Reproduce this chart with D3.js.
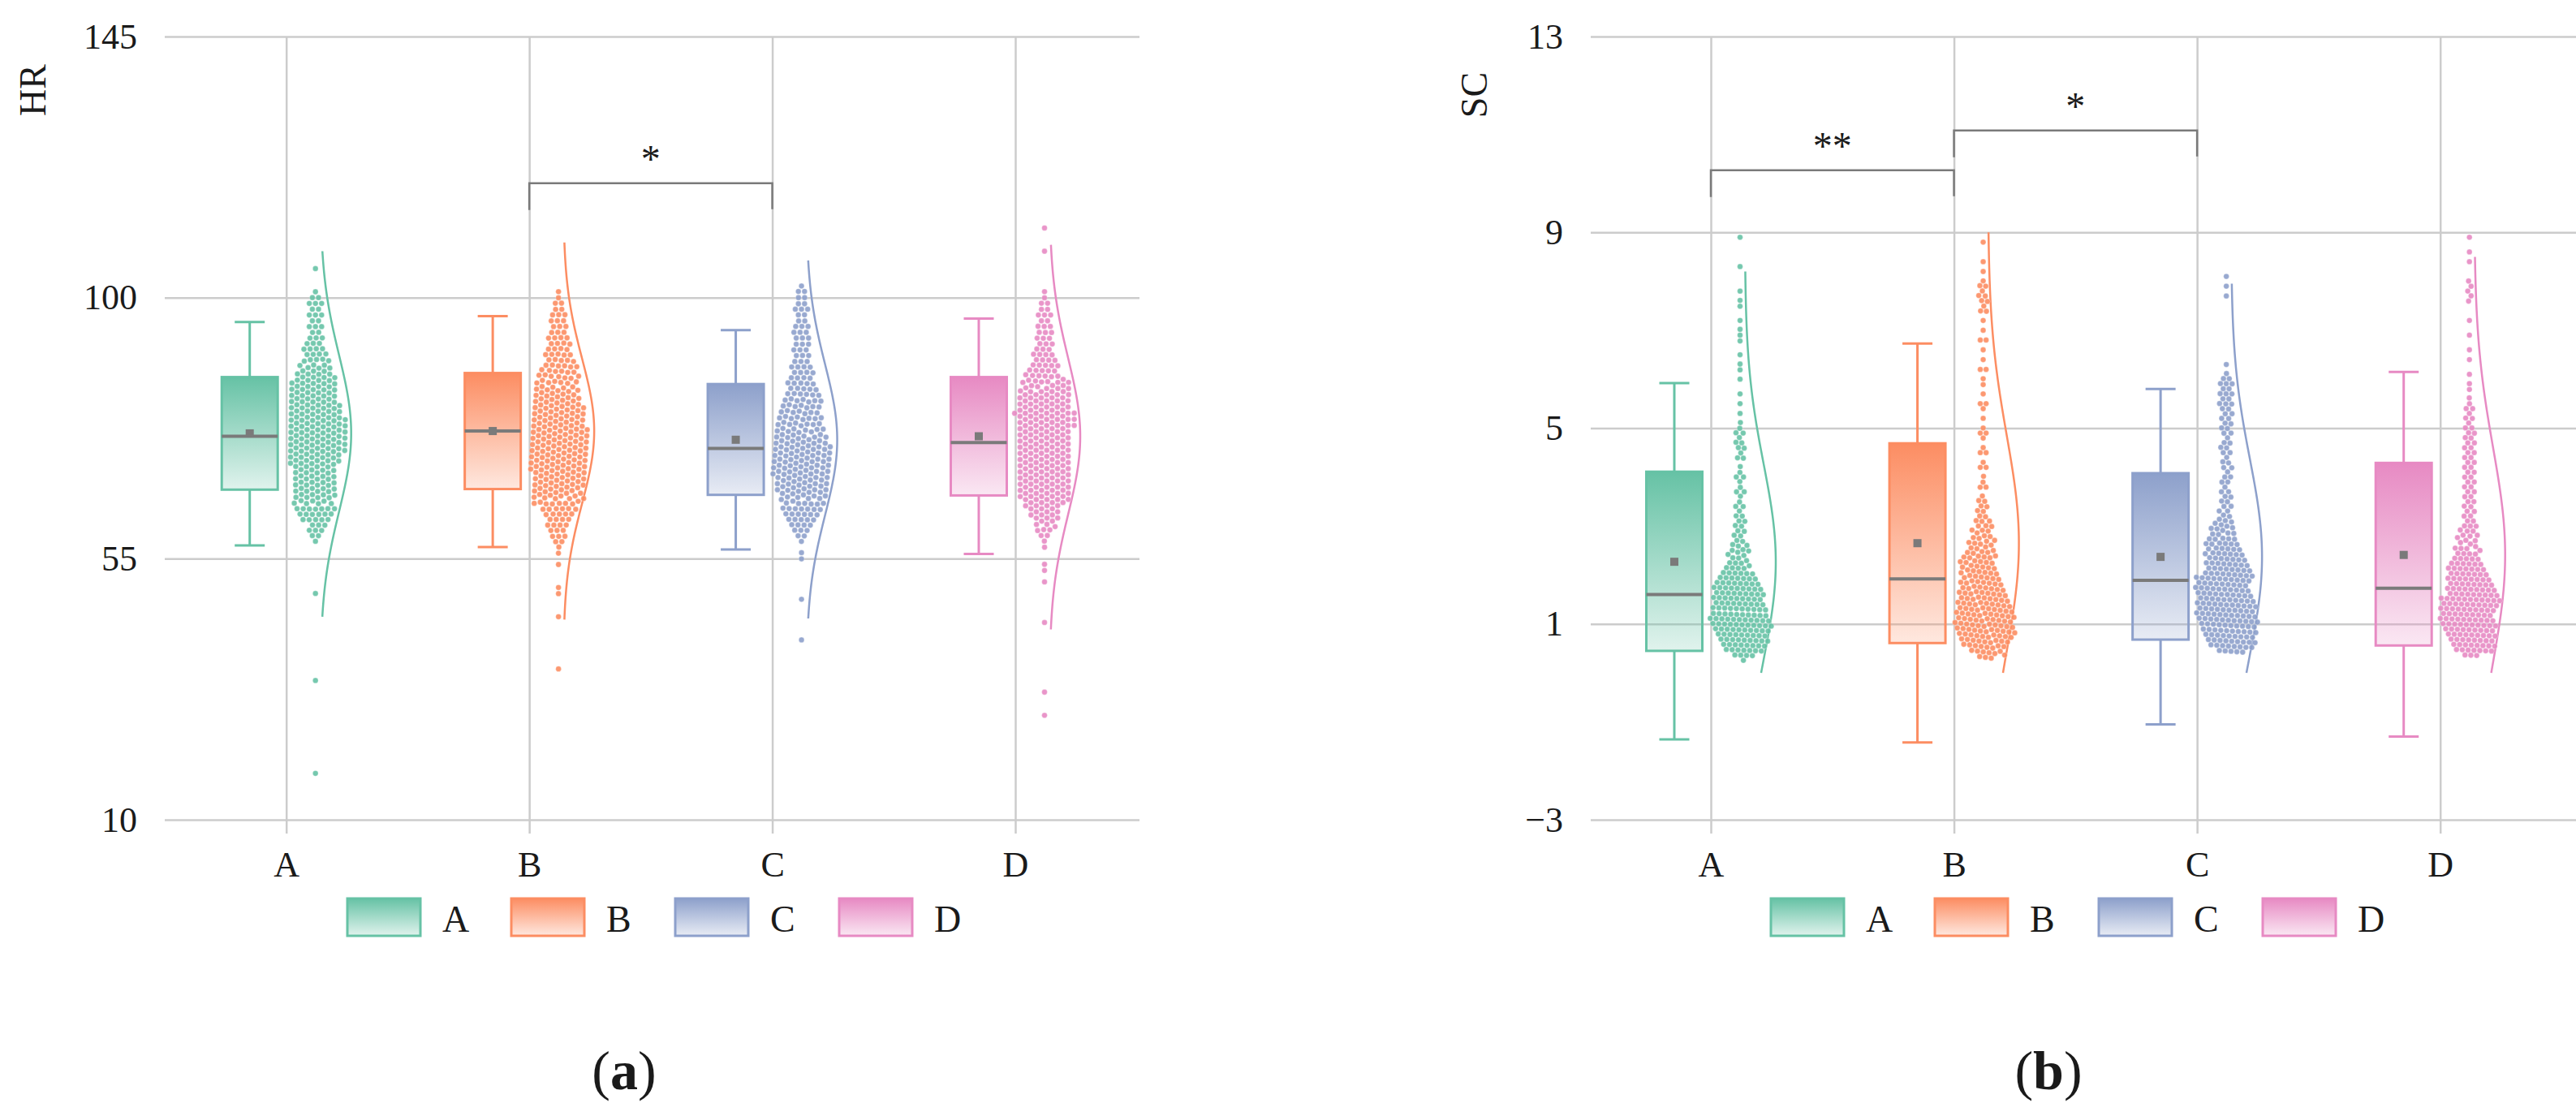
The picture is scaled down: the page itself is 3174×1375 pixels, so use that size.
<!DOCTYPE html>
<html>
<head>
<meta charset="utf-8">
<title>HR and SC by group</title>
<script src="https://cdn.jsdelivr.net/npm/d3@7"></script>
<style>
	body { margin: 0; background: #fff; }
	text { font-family: "Liberation Serif", "Times New Roman", serif; fill: #1a1a1a; }
</style>
</head>
<body>
<svg id="chart" width="3174" height="1375"></svg>

<script type="text/javascript">
var groups = ['A', 'B', 'C', 'D'];
var colors = ['#66c2a5', '#fc8d62', '#8da0cb', '#e78ac3'];

// ---- panel (a): HR ----
var hrTicks = [10, 55, 100, 145];
var hrWhiskerLow = [57.3, 57.0, 56.6, 55.8];
var hrQ1 = [66.9, 67.0, 66.0, 65.9];
var hrMedian = [76.1, 77.0, 74.0, 75.0];
var hrQ3 = [86.3, 87.0, 85.1, 86.3];
var hrWhiskerHigh = [95.8, 96.8, 94.4, 96.4];
var hrMean = [76.6, 77.0, 75.5, 76.1];
var hrSd = [13.5, 12.5, 13, 13.5];
var hrCurveLow = [45, 44.5, 44.7, 42.8];
var hrCurveHigh = [108, 109.5, 106.4, 109.1];

// [value, count]
var hrFreqA = [[18,1],[34,1],[49,1],[58,1],[59,2],[60,3],[61,3],[62,5],[63,6],[64,7],[65,7],[66,8],[67,8],[68,8],[69,8],[70,8],[71,8],[72,9],[73,9],[74,10],[75,10],[76,11],[77,11],[78,11],[79,11],[80,10],[81,10],[82,9],[83,8],[84,8],[85,8],[86,8],[87,6],[88,6],[89,5],[90,4],[91,4],[92,3],[93,3],[94,2],[95,3],[96,2],[97,3],[98,2],[99,3],[100,2],[101,1],[105,1]];
var hrFreqB = [[36,1],[45,1],[49,1],[50,1],[54,1],[56,1],[57,1],[58,2],[59,3],[60,3],[61,4],[62,4],[63,5],[64,6],[65,8],[66,9],[67,9],[68,10],[69,10],[70,10],[71,10],[72,11],[73,11],[74,11],[75,11],[76,11],[77,11],[78,10],[79,10],[80,10],[81,9],[82,9],[83,8],[84,8],[85,7],[86,7],[87,6],[88,6],[89,5],[90,5],[91,4],[92,4],[93,4],[94,3],[95,3],[96,3],[97,3],[98,2],[99,2],[100,1],[101,1]];
var hrFreqC = [[41,1],[48,1],[55,1],[56,1],[58,1],[59,2],[60,3],[61,4],[62,5],[63,6],[64,7],[65,8],[66,8],[67,9],[68,10],[69,11],[70,11],[71,11],[72,11],[73,11],[74,11],[75,10],[76,9],[77,8],[78,8],[79,8],[80,7],[81,7],[82,7],[83,6],[84,5],[85,5],[86,4],[87,4],[88,4],[89,3],[90,3],[91,3],[92,3],[93,3],[94,3],[95,3],[96,2],[97,2],[98,3],[99,2],[100,2],[101,2],[102,1]];
var hrFreqD = [[28,1],[32,1],[44,1],[51,1],[53,1],[54,1],[57,1],[58,1],[59,2],[60,3],[61,3],[62,4],[63,4],[64,6],[65,8],[66,10],[67,10],[68,10],[69,10],[70,10],[71,10],[72,10],[73,10],[74,10],[75,10],[76,10],[77,10],[78,11],[79,11],[80,11],[81,10],[82,10],[83,10],[84,9],[85,8],[86,6],[87,5],[88,5],[89,4],[90,4],[91,3],[92,3],[93,3],[94,3],[95,3],[96,2],[97,3],[98,2],[99,2],[100,1],[101,1],[108,1],[112,1]];

var hrBrackets = [['B', 'C', '*', 119.7]];

// ---- panel (b): SC ----
var scTicks = [-3, 1, 5, 9, 13];
var scWhiskerLow = [-1.36, -1.42, -1.05, -1.30];
var scQ1 = [0.45, 0.61, 0.68, 0.56];
var scMedian = [1.60, 1.92, 1.89, 1.73];
var scQ3 = [4.11, 4.69, 4.08, 4.29];
var scWhiskerHigh = [5.92, 6.73, 5.80, 6.15];
var scMean = [2.27, 2.65, 2.37, 2.41];
var scSd = [2.0, 2.2, 2.0, 2.2];
var scCurveLow = [0, 0, 0, 0];
var scCurveHigh = [8.2, 9.0, 7.95, 8.5];

var scFreqA = [[0.4,4],[0.5,8],[0.6,8],[0.7,9],[0.8,9],[0.9,10],[1.0,11],[1.1,11],[1.2,10],[1.3,10],[1.4,9],[1.5,9],[1.6,9],[1.7,9],[1.8,8],[1.9,7],[2.0,6],[2.1,4],[2.2,4],[2.3,3],[2.4,3],[2.5,3],[2.6,3],[2.7,2],[2.8,2],[2.9,2],[3.0,2],[3.1,2],[3.2,2],[3.3,1],[3.4,2],[3.5,1],[3.6,1],[3.7,2],[3.8,1],[3.9,1],[4.0,2],[4.1,1],[4.2,1],[4.4,2],[4.5,1],[4.6,2],[4.7,2],[4.8,1],[4.9,2],[5.0,1],[5.1,1],[5.3,1],[5.5,1],[5.7,1],[6.0,1],[6.2,1],[6.3,1],[6.5,1],[6.8,1],[6.9,1],[7.0,1],[7.2,1],[7.5,1],[7.6,1],[7.8,1],[8.3,1],[8.9,1]];
var scFreqB = [[0.4,3],[0.5,6],[0.6,8],[0.7,9],[0.8,10],[0.9,11],[1.0,11],[1.1,11],[1.2,11],[1.3,10],[1.4,10],[1.5,9],[1.6,9],[1.7,8],[1.8,8],[1.9,7],[2.0,7],[2.1,6],[2.2,6],[2.3,5],[2.4,5],[2.5,4],[2.6,4],[2.7,4],[2.8,3],[2.9,3],[3.0,3],[3.1,3],[3.2,2],[3.3,2],[3.4,2],[3.5,2],[3.6,1],[3.8,2],[3.9,1],[4.0,1],[4.2,2],[4.3,1],[4.5,2],[4.6,1],[4.8,1],[4.9,2],[5.0,1],[5.2,1],[5.4,1],[5.5,2],[5.7,1],[5.9,1],[6.0,1],[6.2,2],[6.4,1],[6.6,1],[6.8,2],[7.0,1],[7.2,1],[7.4,2],[7.5,1],[7.6,2],[7.7,2],[7.8,1],[7.9,2],[8.0,1],[8.2,1],[8.4,1],[8.8,1]];
var scFreqC = [[0.5,5],[0.6,8],[0.7,9],[0.8,9],[0.9,10],[1.0,10],[1.1,11],[1.2,11],[1.3,11],[1.4,11],[1.5,10],[1.6,10],[1.7,10],[1.8,9],[1.9,9],[2.0,9],[2.1,8],[2.2,8],[2.3,7],[2.4,7],[2.5,6],[2.6,6],[2.7,5],[2.8,4],[2.9,4],[3.0,3],[3.1,3],[3.2,2],[3.3,2],[3.4,2],[3.5,2],[3.6,2],[3.7,2],[3.8,1],[3.9,2],[4.0,2],[4.1,1],[4.2,2],[4.3,2],[4.4,1],[4.5,2],[4.6,2],[4.7,2],[4.8,1],[4.9,2],[5.0,2],[5.1,2],[5.2,2],[5.3,2],[5.4,2],[5.5,3],[5.6,2],[5.7,3],[5.8,2],[5.9,3],[6.0,2],[6.1,1],[6.3,1],[7.7,1],[7.9,1],[8.1,1]];
var scFreqD = [[0.4,3],[0.5,7],[0.6,8],[0.7,8],[0.8,9],[0.9,9],[1.0,10],[1.1,10],[1.2,10],[1.3,10],[1.4,10],[1.5,10],[1.6,9],[1.7,9],[1.8,8],[1.9,8],[2.0,7],[2.1,7],[2.2,6],[2.3,5],[2.4,4],[2.5,4],[2.6,3],[2.7,3],[2.8,3],[2.9,3],[3.0,3],[3.1,2],[3.2,2],[3.3,2],[3.4,2],[3.5,2],[3.6,2],[3.7,2],[3.8,2],[3.9,2],[4.0,2],[4.1,2],[4.2,2],[4.3,2],[4.4,2],[4.5,2],[4.6,2],[4.7,2],[4.8,2],[4.9,2],[5.0,2],[5.1,1],[5.2,2],[5.3,1],[5.4,2],[5.5,1],[5.6,1],[5.8,1],[5.9,1],[6.1,1],[6.4,1],[6.6,1],[6.9,1],[7.2,1],[7.6,1],[7.7,1],[7.8,1],[7.9,1],[8.0,1],[8.4,1],[8.6,1],[8.9,1]];

var scBrackets = [['A', 'B', '**', 10.27], ['B', 'C', '*', 11.08]];

var svg = d3.select('#chart');
var grey = '#7a7a7a';

// vertical gradients for the boxes and legend keys
var defs = svg.append('defs');
groups.forEach(function(g, i) {
	var grad = defs.append('linearGradient')
		.attr('id', 'grad-' + g)
		.attr('x1', 0).attr('y1', 0).attr('x2', 0).attr('y2', 1);
	grad.append('stop').attr('offset', '0%').attr('stop-color', colors[i]).attr('stop-opacity', 1);
	grad.append('stop').attr('offset', '100%').attr('stop-color', colors[i]).attr('stop-opacity', 0.2);
});

// beeswarm-ish layout: rows pulled to their value, collisions spread them out
function swarm(freq, cx, y, radius) {
	var nodes = [];
	freq.forEach(function(d) {
		for (var k = 0; k < d[1]; k++) {
			nodes.push({value: d[0], ty: y(d[0]), x: cx + (k - (d[1] - 1) / 2) * 2 * radius, y: y(d[0]) + (k % 2 ? 1.5 : -1.5)});
		}
	});
	var sim = d3.forceSimulation(nodes)
		.force('x', d3.forceX(cx).strength(0.07))
		.force('y', d3.forceY(function(d) { return d.ty; }).strength(0.5))
		.force('collide', d3.forceCollide(radius).iterations(3))
		.stop();
	for (var i = 0; i < 300; i++) sim.tick();
	return nodes;
}

function drawPanel(p) {
	var g = svg.append('g');
	var y = d3.scaleLinear().domain(p.domain).range([1010, 45]);
	var x = d3.scalePoint().domain(groups).range([p.catFirst, p.catLast]);

	// horizontal grid + tick labels
	var yAxis = g.append('g')
		.attr('transform', 'translate(' + p.left + ',0)')
		.call(d3.axisLeft(y).tickValues(p.ticks).tickSize(-(p.right - p.left)).tickPadding(34).tickFormat(d3.format('d')));
	yAxis.select('.domain').remove();
	yAxis.selectAll('line').attr('stroke', '#cccccc').attr('stroke-width', 2.5);
	yAxis.selectAll('text').style('font-size', '44px').attr('fill', '#1a1a1a');

	// vertical grid lines, short ticks and category labels
	var gridX = g.append('g')
		.attr('transform', 'translate(0,1010)')
		.call(d3.axisBottom(x).tickSize(-965).tickFormat(''));
	gridX.select('.domain').remove();
	gridX.selectAll('line').attr('stroke', '#cccccc').attr('stroke-width', 2.5);

	var xAxis = g.append('g')
		.attr('transform', 'translate(0,1010)')
		.call(d3.axisBottom(x).tickSize(17).tickPadding(22));
	xAxis.select('.domain').remove();
	xAxis.selectAll('line').attr('stroke', '#cccccc').attr('stroke-width', 2.5);
	xAxis.selectAll('text').style('font-size', '44px').attr('fill', '#1a1a1a');

	// axis title
	g.append('text')
		.attr('transform', 'translate(' + p.titleX + ',' + p.titleY + ') rotate(-90)')
		.attr('text-anchor', 'middle')
		.attr('dy', '0.35em')
		.style('font-size', '46px')
		.text(p.title);

	// significance brackets
	p.brackets.forEach(function(b) {
		var x1 = x(b[0]), x2 = x(b[1]), yt = y(b[3]);
		g.append('path')
			.attr('d', 'M' + x1 + ',' + (yt + 33) + 'V' + yt + 'H' + x2 + 'V' + (yt + 32))
			.attr('fill', 'none')
			.attr('stroke', grey)
			.attr('stroke-width', 2.5);
		g.append('text')
			.attr('x', (x1 + x2) / 2)
			.attr('y', yt - 14)
			.attr('text-anchor', 'middle')
			.style('font-size', '48px')
			.text(b[2]);
	});

	groups.forEach(function(name, i) {
		var c = colors[i];
		var bx = x(name) - 45, bw = 69;

		// whiskers
		g.append('line').attr('x1', bx).attr('x2', bx)
			.attr('y1', y(p.q3[i])).attr('y2', y(p.whHigh[i]))
			.attr('stroke', c).attr('stroke-width', 3);
		g.append('line').attr('x1', bx).attr('x2', bx)
			.attr('y1', y(p.q1[i])).attr('y2', y(p.whLow[i]))
			.attr('stroke', c).attr('stroke-width', 3);
		[p.whHigh[i], p.whLow[i]].forEach(function(v) {
			g.append('line').attr('x1', bx - 18.5).attr('x2', bx + 18.5)
				.attr('y1', y(v)).attr('y2', y(v))
				.attr('stroke', c).attr('stroke-width', 3);
		});

		// box
		g.append('rect')
			.attr('x', bx - bw / 2)
			.attr('y', y(p.q3[i]))
			.attr('width', bw)
			.attr('height', y(p.q1[i]) - y(p.q3[i]))
			.attr('fill', 'url(#grad-' + name + ')')
			.attr('stroke', c)
			.attr('stroke-width', 3);
		g.append('line')
			.attr('x1', bx - bw / 2).attr('x2', bx + bw / 2)
			.attr('y1', y(p.median[i])).attr('y2', y(p.median[i]))
			.attr('stroke', grey).attr('stroke-width', 4);
		g.append('rect')
			.attr('x', bx - 5).attr('y', y(p.mean[i]) - 5)
			.attr('width', 10).attr('height', 10)
			.attr('fill', grey);

		// normal curve
		var base = x(name) + 42;
		var vals = d3.range(0, 101).map(function(k) {
			return p.curveLow[i] + (p.curveHigh[i] - p.curveLow[i]) * k / 100;
		});
		var line = d3.line()
			.x(function(v) {
				var z = (v - p.mean[i]) / p.sd[i];
				return base + 38 * Math.exp(-z * z / 2);
			})
			.y(function(v) { return y(v); });
		g.append('path')
			.attr('d', line(vals))
			.attr('fill', 'none')
			.attr('stroke', c)
			.attr('stroke-width', 2.5);

		// points
		var nodes = swarm(p.freq[i], x(name) + 36, y, p.dotSpace);
		g.append('g').selectAll('circle')
			.data(nodes)
			.enter()
			.append('circle')
			.attr('cx', function(d) { return d.x; })
			.attr('cy', function(d) { return d.y; })
			.attr('r', 3.4)
			.attr('fill', c)
			.attr('fill-opacity', 0.9)
			.attr('stroke', '#ffffff')
			.attr('stroke-width', 0.5)
			.attr('stroke-opacity', 0.6);
	});

	// legend
	var leg = g.append('g').selectAll('g')
		.data(groups)
		.enter()
		.append('g')
		.attr('transform', function(d, i) { return 'translate(' + (p.legendX + i * 202) + ',1107)'; });
	leg.append('rect')
		.attr('width', 90).attr('height', 46)
		.attr('fill', function(d) { return 'url(#grad-' + d + ')'; })
		.attr('stroke', function(d, i) { return colors[i]; })
		.attr('stroke-width', 3);
	leg.append('text')
		.attr('x', 117).attr('y', 41)
		.style('font-size', '46px')
		.text(function(d) { return d; });

	// panel label
	var lab = g.append('text')
		.attr('x', p.labelX)
		.attr('y', 1342)
		.attr('text-anchor', 'middle')
		.style('font-size', '68px');
	lab.append('tspan').text('(');
	lab.append('tspan').style('font-weight', 'bold').text(p.label);
	lab.append('tspan').text(')');
}

drawPanel({
	domain: [10, 145], ticks: hrTicks,
	left: 203, right: 1404, catFirst: 352.7, catLast: 1251,
	title: 'HR', titleX: 40, titleY: 111,
	q1: hrQ1, q3: hrQ3, median: hrMedian, mean: hrMean,
	whLow: hrWhiskerLow, whHigh: hrWhiskerHigh,
	sd: hrSd, curveLow: hrCurveLow, curveHigh: hrCurveHigh,
	freq: [hrFreqA, hrFreqB, hrFreqC, hrFreqD], dotSpace: 3.8,
	brackets: hrBrackets,
	legendX: 428, label: 'a', labelX: 769
});

drawPanel({
	domain: [-3, 13], ticks: scTicks,
	left: 1960, right: 3174, catFirst: 2108, catLast: 3006.7,
	title: 'SC', titleX: 1816, titleY: 117,
	q1: scQ1, q3: scQ3, median: scMedian, mean: scMean,
	whLow: scWhiskerLow, whHigh: scWhiskerHigh,
	sd: scSd, curveLow: scCurveLow, curveHigh: scCurveHigh,
	freq: [scFreqA, scFreqB, scFreqC, scFreqD], dotSpace: 3.6,
	brackets: scBrackets,
	legendX: 2182, label: 'b', labelX: 2524
});
</script>
</body>
</html>
